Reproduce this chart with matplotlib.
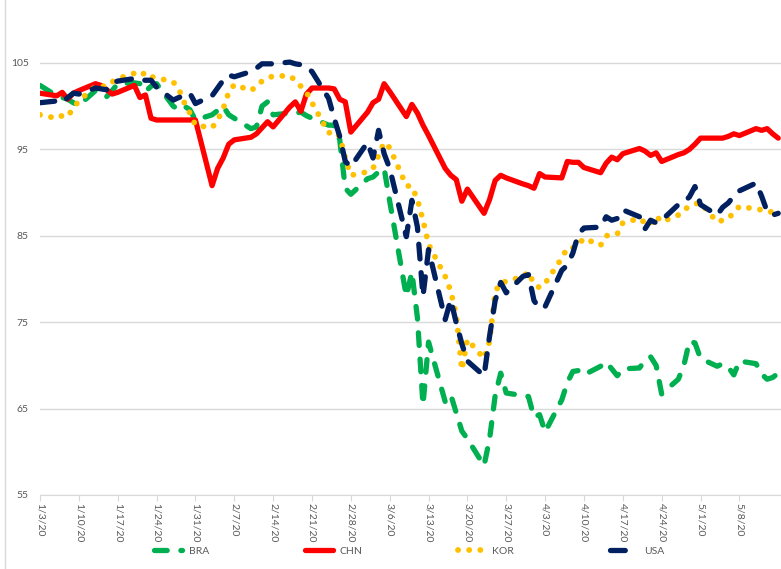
import pandas as pd
import matplotlib
matplotlib.use('Agg')
import matplotlib.pyplot as plt
from matplotlib.lines import Line2D

plt.rcParams['font.family'] = ['Lato', 'DejaVu Sans']

# trading days, indexed levels (start = ~100)
dates = pd.bdate_range('2020-01-03', '2020-05-15')

bra = [102.4,
       101.2, 101.0, 100.8, 100.4, 100.1,
       101.8, 101.6, 101.1, 101.8, 102.6,
       102.7, 102.6, 101.7, 102.3, 102.6,
       100.0, 99.6, 100.0, 99.6, 98.4,
       99.0, 99.5, 100.0, 99.0, 98.6,
       97.4, 97.6, 100.0, 100.5, 99.0,
       99.2, 99.2, 99.3, 98.9, 98.6,
       97.8, 97.8, 96.1, 90.5, 89.8,
       91.6, 91.8, 92.4, 92.8, 89.0,
       78.0, 80.8, 75.5, 65.4, 72.7,
       65.8, 66.6, 64.5, 62.4, 61.5,
       58.4, 61.5, 66.5, 69.1, 66.8,
       66.5, 66.4, 64.0, 64.3, 62.3,
       66.0, 68.0, 69.3, 69.4, 68.9,
       69.9, 70.4, 69.6, 68.8, 69.6,
       69.7, 70.6, 71.0, 70.0, 66.7,
       68.4, 70.0, 72.8, 72.6, 70.8,
       69.9, 70.2, 69.8, 68.9, 70.5,
       70.2, 69.0, 68.4, 68.6, 69.1]

chn = [101.5,
       101.2, 101.6, 100.8, 101.5, 101.8,
       102.6, 102.4, 101.9, 101.4, 101.6,
       102.4, 101.0, 101.3, 98.6, 98.4,
       98.4, 98.4, 98.4, 98.4, 98.4,
       90.8, 92.8, 94.0, 95.6, 96.1,
       96.4, 96.8, 97.5, 98.2, 97.6,
       99.9, 100.5, 99.4, 101.4, 102.1,
       102.1, 102.0, 100.8, 100.5, 97.0,
       99.3, 100.4, 100.8, 102.6, 101.7,
       98.8, 100.2, 99.2, 97.8, 96.6,
       92.8, 92.0, 91.5, 89.0, 90.4,
       87.6, 89.2, 91.4, 92.0, 91.7,
       91.0, 90.8, 90.5, 92.2, 91.8,
       91.7, 93.6, 93.5, 93.5, 92.9,
       92.3, 93.4, 94.1, 93.8, 94.5,
       95.1, 94.8, 94.3, 94.6, 93.6,
       94.4, 94.6, 95.0, 95.6, 96.3,
       96.3, 96.3, 96.5, 96.8, 96.6,
       97.4, 97.2, 97.4, 96.8, 96.3]

kor = [99.0,
       98.6, 98.9, 98.8, 99.8, 100.6,
       102.3, 102.3, 102.3, 102.8, 103.2,
       103.8, 103.5, 103.9, 103.4, 103.3,
       102.8, 102.0, 100.4, 99.2, 97.8,
       97.5, 98.4, 99.7, 101.6, 102.5,
       101.8, 102.3, 102.9, 103.2, 103.5,
       103.5, 103.0, 102.3, 101.6, 100.4,
       96.9, 97.1, 96.5, 94.0, 92.0,
       92.4, 92.8, 94.3, 95.8, 95.2,
       90.8, 90.7, 89.2, 86.8, 84.0,
       80.3, 78.6, 75.8, 69.5, 73.0,
       70.8, 72.8, 78.5, 79.6, 79.7,
       80.3, 80.8, 79.4, 79.0, 79.5,
       82.4, 83.6, 83.6, 84.0, 84.7,
       83.9, 85.0, 85.1, 85.2, 86.5,
       87.0, 86.5, 86.3, 87.3, 86.6,
       87.4, 88.0, 88.4, 88.7, 88.8,
       86.6, 86.8, 87.0, 87.7, 88.4,
       88.1, 88.0, 87.9, 87.7, 87.5]

usa = [100.4,
       100.6, 100.4, 101.0, 101.5, 101.4,
       102.1, 102.0, 101.9, 102.7, 102.9,
       103.2, 103.0, 103.0, 103.0, 102.2,
       100.7, 101.0, 101.2, 101.5, 100.3,
       101.2, 102.1, 103.0, 103.6, 103.4,
       104.0, 104.4, 104.9, 104.9, 104.9,
       105.1, 104.9, 104.8, 104.5, 104.0,
       100.9, 98.6, 96.5, 93.6, 93.0,
       95.8, 94.0, 97.2, 94.5, 92.8,
       84.9, 89.1, 86.0, 78.0, 83.4,
       75.3, 77.6, 74.9, 72.5, 70.5,
       68.8, 73.4, 77.5, 79.6, 78.4,
       80.3, 80.5, 77.5, 76.6, 76.8,
       81.0, 81.6, 83.0, 85.2, 85.9,
       86.0, 87.2, 86.8, 87.0, 88.0,
       87.2, 85.8, 86.8, 86.5, 86.8,
       88.6, 88.9, 89.5, 90.7, 88.6,
       87.4, 88.3, 88.8, 89.6, 90.2,
       91.1, 89.6, 87.8, 87.4, 87.6]

colors = ['#00b050', '#ff0000', '#ffc000', '#002060']

fig = plt.figure(figsize=(7.81, 5.69), dpi=100)
ax = fig.add_axes([40 / 781, 74 / 569, 741 / 781, 466.6 / 569])

ax.plot(dates, bra, color=colors[0], lw=3.8, ls=(0, (2.4, 2.6)),
        dash_capstyle='round', label='BRA')
ax.plot(dates, chn, color=colors[1], lw=3.8, solid_joinstyle='round',
        solid_capstyle='round', label='CHN')
ax.plot(dates, kor, color=colors[2], lw=4.2, ls=(0, (0.01, 1.9)),
        dash_capstyle='round', label='KOR')
ax.plot(dates, usa, color=colors[3], lw=3.8, ls=(0, (2.8, 2.6)),
        dash_capstyle='round', label='USA')

start = pd.Timestamp('2020-01-03')
ax.set_xlim(start, start + pd.Timedelta(days=133.5))
ax.set_ylim(55, 109)

ticks = pd.date_range('2020-01-03', '2020-05-08', freq='7D')
ax.set_xticks(ticks)
ax.set_xticklabels([f'{d.month}/{d.day}/{d.strftime("%y")}' for d in ticks],
                   rotation=-90)
ax.set_yticks(range(55, 106, 10))

ax.grid(axis='y', color='#d9d9d9', lw=1)
ax.set_axisbelow(True)
for side in ['left', 'top', 'right']:
    ax.spines[side].set_visible(False)
ax.spines['bottom'].set_color('#d9d9d9')
ax.tick_params(axis='y', length=0, pad=8, labelsize=7.5, labelcolor='#595959')
ax.tick_params(axis='x', length=4, color='#d9d9d9', pad=2, labelsize=7.5,
               labelcolor='#595959')

fig.legend(loc='center', bbox_to_anchor=(0.524, 1 - 551 / 569), ncol=4,
           frameon=False, fontsize=7.5, handlelength=2.7, handletextpad=0.6,
           columnspacing=9.2, labelcolor='#595959')

# chart-area border on the left
fig.add_artist(Line2D([5 / 781, 5 / 781], [0, 1], color='#d9d9d9', lw=1))

fig.savefig('out.png', dpi=100)
